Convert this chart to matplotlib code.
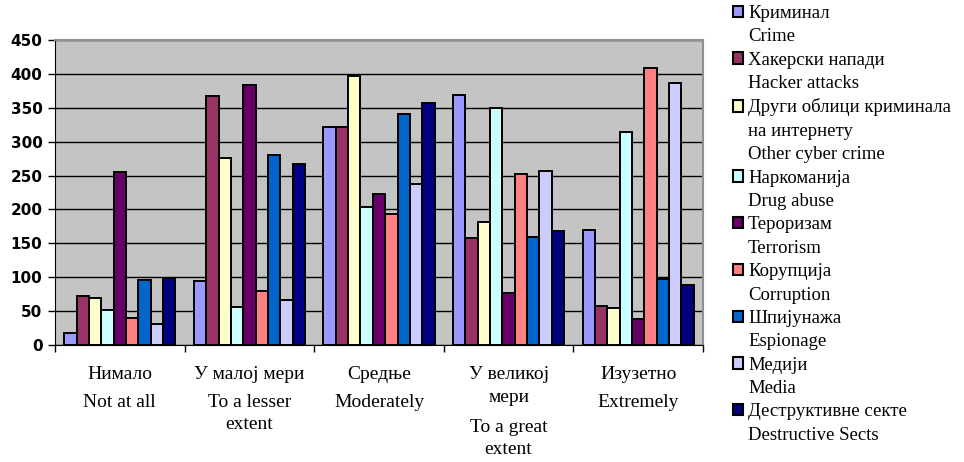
import matplotlib
matplotlib.use('Agg')
import matplotlib.pyplot as plt
import matplotlib.patches as mpatches
import matplotlib.transforms as mtransforms
import numpy as np

# categories (Serbian / English)
cat_sr = ['Нимало', 'У малој мери', 'Средње', 'У великој\nмери', 'Изузетно']
cat_en = ['Not at all', 'To a lesser\nextent', 'Moderately', 'To a great\nextent', 'Extremely']

# series names (Serbian / English)
ser_sr = ['Криминал', 'Хакерски напади', 'Други облици криминала\nна интернету', 'Наркоманија',
          'Тероризам', 'Корупција', 'Шпијунажа', 'Медији', 'Деструктивне секте']
ser_en = ['Crime', 'Hacker attacks', 'Other cyber crime', 'Drug abuse',
          'Terrorism', 'Corruption', 'Espionage', 'Media', 'Destructive Sects']
colors = ['#9999FF', '#993366', '#FFFFCC', '#CCFFFF', '#660066',
          '#FF8080', '#0066CC', '#CCCCFF', '#000080']

# values per series, one per category
crime       = [18, 95, 322, 369, 169]
hacker      = [72, 368, 322, 158, 58]
other_cyber = [69, 276, 397, 181, 54]
drug        = [51, 56, 203, 349, 315]
terrorism   = [255, 383, 223, 77, 39]
corruption  = [40, 80, 194, 253, 408]
espionage   = [96, 281, 341, 160, 97]
media       = [31, 66, 238, 256, 386]
sects       = [99, 267, 357, 168, 88]
series = [crime, hacker, other_cyber, drug, terrorism, corruption, espionage, media, sects]

serif = ['Liberation Serif', 'DejaVu Serif']

fig = plt.figure(figsize=(9.64, 4.62), dpi=100)
ax = fig.add_axes([55/964, 1-345/462, (703-55)/964, (345-40)/462])
ax.set_facecolor('#C4C4C4')

n = len(series)
x = np.arange(len(cat_sr))
w = 0.857 / n
for i, vals in enumerate(series):
    ax.bar(x - 0.857/2 + w*(i+0.5), vals, width=w, color=colors[i],
           edgecolor='black', linewidth=1.4, zorder=3)

ax.set_xlim(-0.5, len(cat_sr)-0.5)
ax.set_ylim(0, 450)
ax.set_yticks(range(0, 451, 50))
ax.yaxis.grid(True, color='black', linewidth=1.0, zorder=1)
ax.set_axisbelow(True)
for lbl in ax.get_yticklabels():
    lbl.set_fontweight('bold')
    lbl.set_fontsize(11)
ax.set_xticks(np.arange(-0.5, len(cat_sr), 1.0))
ax.set_xticklabels([])
ax.tick_params(axis='both', direction='out', length=5, width=1, color='black')
ax.tick_params(axis='y', pad=4)
ax.spines['top'].set_color('#909090')
ax.spines['right'].set_color('#909090')
ax.spines['top'].set_linewidth(1.5)
ax.spines['right'].set_linewidth(1.5)

# category labels: Serbian lines, then English lines below
trans = mtransforms.blended_transform_factory(ax.transData, fig.transFigure)
pitch = 25
for xi, s1, s2 in zip(x, cat_sr, cat_en):
    top = 366
    ax.text(xi, 1-top/462, s1, transform=trans, ha='center', va='top',
            family=serif, fontsize=14, linespacing=1.5)
    top2 = top + pitch*(s1.count('\n')) + 28
    ax.text(xi, 1-top2/462, s2, transform=trans, ha='center', va='top',
            family=serif, fontsize=14, linespacing=1.42)

# legend: coloured box on first line, blank on the following lines
handles, labels = [], []
for c, s1, s2 in zip(colors, ser_sr, ser_en):
    lines = s1.split('\n') + [s2]
    for j, ln in enumerate(lines):
        if j == 0:
            handles.append(mpatches.Patch(facecolor=c, edgecolor='black', linewidth=1.5))
        else:
            handles.append(mpatches.Patch(facecolor='none', edgecolor='none'))
        labels.append(ln)
fig.legend(handles, labels, loc='upper left', bbox_to_anchor=(733/964, 1-5/462),
           frameon=False, prop={'family': serif, 'size': 13.5},
           handlelength=0.55, handleheight=0.55, handletextpad=0.25,
           labelspacing=0.34, borderpad=0.0, borderaxespad=0.0)

fig.savefig('out.png', dpi=100)
